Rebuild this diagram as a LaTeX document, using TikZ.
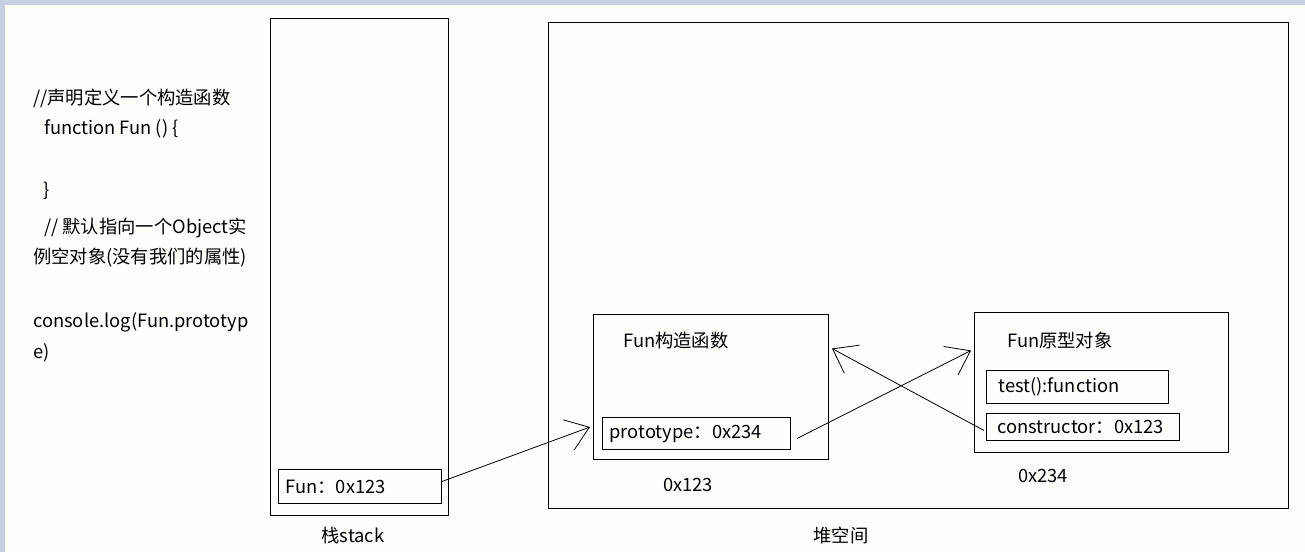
\documentclass[tikz,border=0pt]{standalone}
\usepackage{fontspec}
\setmainfont{Noto Sans CJK SC}
\usetikzlibrary{arrows.meta}
\definecolor{bgpaper}{RGB}{254,254,250}
\definecolor{framestrip}{RGB}{197,208,224}
\begin{document}
\begin{tikzpicture}[x=1pt,y=-1pt,
  font=\fontsize{18.3}{22}\selectfont,
  region/.style={draw=black, line width=1pt, inner sep=0pt, anchor=north west},
  field/.style={draw=black, line width=1pt, inner ysep=0pt, align=left, anchor=north west},
  txt/.style={inner sep=0pt, anchor=west},
  ctxt/.style={inner sep=0pt, anchor=center},
  link/.style={line width=0.8pt, -{Straight Barb[length=22pt,width=32pt,line width=0.8pt]}}]
\useasboundingbox (0,0) rectangle (1305,552);
\fill[bgpaper] (0,0) rectangle (1305,552);
\fill[framestrip] (0,0) rectangle (1305,5);
\fill[framestrip] (0,0) rectangle (5,552);

% code text
\node[txt] (c1) at (33,98) {//声明定义一个构造函数};
\node[txt] (c2) at (44,129) {function Fun () \{};
\node[txt] (c3) at (43,191) {\}};
\node[txt] (c4) at (44,228) {// 默认指向一个Object实};
\node[txt] (c5) at (33,258) {例空对象(没有我们的属性)};
\node[txt] (c6) at (33,322) {console.log(Fun.prototyp};
\node[txt] (c7) at (33,353) {e)};

% stack
\node[region, minimum width=178pt, minimum height=497pt] (stack) at (270,18) {};
\node[field, minimum width=163pt, minimum height=34pt, text width=149pt, inner xsep=7pt] (funbox) at (278,469) {Fun：0x123};
\node[ctxt] (stacklbl) at (353,536) {栈stack};

% heap
\node[region, minimum width=740pt, minimum height=486pt] (heap) at (548,22) {};
\node[ctxt] (heaplbl) at (841,535) {堆空间};

\node[region, minimum width=235pt, minimum height=145pt] (ctorbox) at (593,314) {};
\node[txt] (ctorlbl) at (623,341) {Fun构造函数};
\node[field, minimum width=188pt, minimum height=32pt, text width=174pt, inner xsep=7pt] (protofield) at (602,417) {prototype：0x234};
\node[txt] (addr1) at (663,485) {0x123};

\node[region, minimum width=254pt, minimum height=140pt] (protobox) at (974,312) {};
\node[txt] (protolbl) at (1007,340) {Fun原型对象};
\node[field, minimum width=182pt, minimum height=33pt, text width=158pt, inner xsep=12pt] (testfield) at (986,370) {test():function};
\node[field, minimum width=193pt, minimum height=27pt, text width=171pt, inner xsep=11pt] (ctorfield) at (986,413) {constructor：0x123};
\node[txt] (addr2) at (1018,476) {0x234};

% connectors
\draw[link] ([yshift=5pt]funbox.east) -- ([shift={(-3pt,-40pt)}]ctorbox.west);
\draw[link] ([shift={(6pt,-5pt)}]protofield.east) -- ([shift={(-3pt,32pt)}]protobox.west);
\draw[link] ([shift={(-2pt,-3.5pt)}]ctorfield.west) -- ([shift={(3pt,38.5pt)}]ctorbox.east);
\end{tikzpicture}
\end{document}
